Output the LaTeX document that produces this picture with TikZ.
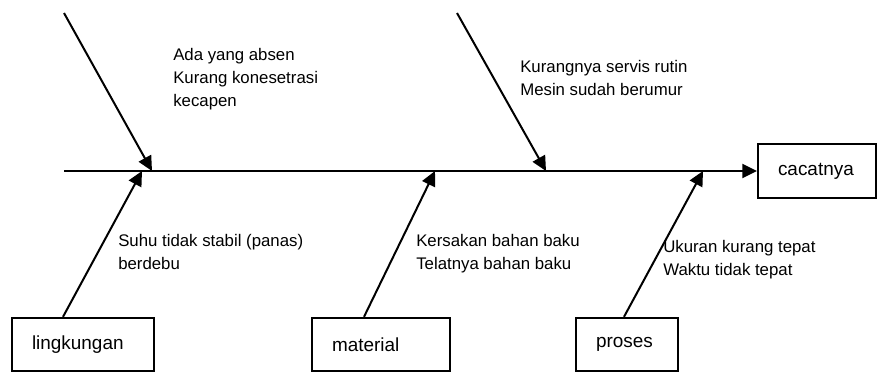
\documentclass[tikz,border=0pt]{standalone}
\usepackage{fontspec}
\setmainfont{Liberation Sans}
\usetikzlibrary{arrows.meta}
\tikzstyle{box} = [draw=black, line width=1.5pt, inner xsep=15pt, align=left, minimum height=40pt, font={\fontsize{14.2}{17.25}\selectfont}]
\tikzstyle{note} = [inner sep=0pt, anchor=base west, align=left, font={\fontsize{12.6}{17.25}\selectfont}]
\tikzstyle{bone} = [line width=1.5pt, -{Triangle[length=11pt,width=10.5pt]}]

\begin{document}
\begin{tikzpicture}[x=0.75pt,y=-0.75pt]
        \useasboundingbox (0,0) rectangle (877,372);
        % kotak sebab dan akibat
        \node[box,text width=76.5pt](lingkungan) at (83,344.5){lingkungan};
        \node[box,text width=73.5pt](material) at (381,344.5){material};
        \node[box,text width=46.5pt](proses) at (627,344.5){proses};
        \node[box,text width=58.5pt](cacat) at (817,171){cacatnya};
        % titik pada tulang utama
        \coordinate(spine) at (64,171);
        \coordinate(manusia) at (64,13);
        \coordinate(mesin) at (457,13);
        \coordinate(t1) at (152,171);
        \coordinate(t2) at (546,171);
        \coordinate(b1) at (142,171);
        \coordinate(b2) at (435,171);
        \coordinate(b3) at (703,171);
        \draw[bone](spine)--(cacat.west);
        \draw[bone](manusia)--(t1);
        \draw[bone](mesin)--(t2);
        \draw[bone]([xshift=39pt]lingkungan.north west)--(b1);
        \draw[bone]([xshift=39.75pt]material.north west)--(b2);
        \draw[bone]([xshift=36.75pt]proses.north west)--(b3);
        % keterangan
        \node[note](n1) at (173,106){Ada yang absen\\Kurang konesetrasi\\kecapen};
        \node[note](n2) at (520,95){Kurangnya servis rutin\\Mesin sudah berumur};
        \node[note](n3) at (118,269){Suhu tidak stabil (panas)\\berdebu};
        \node[note](n4) at (416,269){Kersakan bahan baku\\Telatnya bahan baku};
        \node[note](n5) at (663,275){Ukuran kurang tepat\\Waktu tidak tepat};
      \end{tikzpicture}
\end{document}
